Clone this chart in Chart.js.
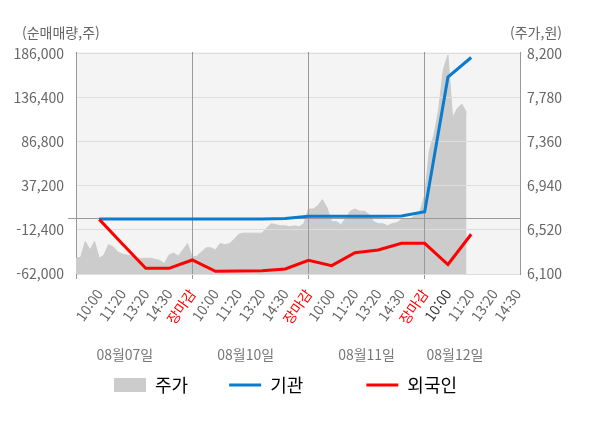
<!DOCTYPE html>
<html lang="ko">
<head>
<meta charset="utf-8">
<script src="https://cdn.jsdelivr.net/npm/chart.js@4.4.0/dist/chart.umd.min.js"></script>
<style>
  html, body { margin: 0; padding: 0; background: #fff; }
  #wrap { width: 600px; height: 428px; }
</style>
</head>
<body>
<div id="wrap"><canvas id="flowChart"></canvas></div>
<script>
const FONT = "'Noto Sans CJK KR', 'Noto Sans', sans-serif";

// x slots: 0 = market open (no label), then 5 slots per day
const timeLabels = ['', '10:00', '11:20', '13:20', '14:30', '장마감',
    '10:00', '11:20', '13:20', '14:30', '장마감',
    '10:00', '11:20', '13:20', '14:30', '장마감',
    '10:00', '11:20', '13:20', '14:30'];
const closeSlots = [5, 10, 15];
const todaySlot = 16;
const dayLabels = ['08월07일', '08월10일', '08월11일', '08월12일'];
const dayLabelSlots = [2.1, 7.3, 12.5, 16.3];

const flowTicks = [-62000, -12400, 0, 37200, 86800, 136400, 186000];
const priceTicks = [6100, 6520, 6940, 7360, 7780, 8200];

// net buying (shares), slots 1..17
const flowStart = 1;
const institution = [0, 0, 0, 0, 0, 0, 0, 0, 500, 3000, 3000, 3000, 3000, 3300, 8200, 159700, 181800];
const foreign = [-500, -28200, -55600, -55600, -46200, -59000, -58600, -58300, -56400, -46600, -52600, -38000, -34900, -27400, -27400, -51300, -17200];

// share price (won), one value every 0.2 slot
const priceStep = 0.2;
const price = [6250, 6260, 6410, 6330, 6410, 6250, 6280, 6380, 6360, 6310,
    6290, 6280, 6270, 6250, 6250, 6250, 6250, 6240, 6230, 6200,
    6280, 6300, 6270, 6330, 6390, 6260, 6270, 6310, 6350, 6350,
    6330, 6390, 6380, 6390, 6430, 6480, 6490, 6490, 6490, 6490,
    6490, 6540, 6580, 6570, 6560, 6560, 6550, 6560, 6550, 6580,
    6720, 6720, 6750, 6810, 6730, 6600, 6600, 6570, 6630, 6700,
    6720, 6700, 6700, 6670, 6600, 6580, 6580, 6560, 6580, 6590,
    6620, 6620, 6630, 6660, 6700, 6850, 7280, 7430, 7670, 8050,
    8190, 7590, 7680, 7720, 7640];

const BLUE = '#0a7ccf';
const RED = '#ff0000';
const AREA = '#cccccc';
const X_MAX = 19.1;

const toPoints = (arr, start, step) => arr.map((v, i) => ({ x: start + i * step, y: v }));

// paint plot background
const plotBackground = {
    id: 'plotBackground',
    beforeDraw(chart) {
        const { ctx, chartArea: a } = chart;
        ctx.save();
        ctx.fillStyle = '#f4f4f4';
        ctx.fillRect(a.left, a.top, a.right - a.left, a.bottom - a.top);
        ctx.restore();
    }
};

// grid lines sit on top of the price area but under the flow lines
const gridOverArea = {
    id: 'gridOverArea',
    afterDatasetDraw(chart, args) {
        if (args.index !== 0) return;
        chart.scales.y.drawGrid(chart.chartArea);
        chart.scales.x.drawGrid(chart.chartArea);
    }
};

// unit captions above both y axes
const axisCaptions = {
    id: 'axisCaptions',
    afterDraw(chart) {
        const ctx = chart.ctx;
        ctx.save();
        ctx.font = '14px ' + FONT;
        ctx.fillStyle = '#666';
        ctx.textBaseline = 'middle';
        ctx.textAlign = 'left';
        ctx.fillText('(순매매량,주)', 22, 33);
        ctx.textAlign = 'right';
        ctx.fillText('(주가,원)', 562, 33);
        ctx.restore();
    }
};

new Chart(document.getElementById('flowChart'), {
    type: 'line',
    data: {
        datasets: [{
            label: '주가',
            data: toPoints(price, 0, priceStep),
            yAxisID: 'y1',
            fill: 'start',
            backgroundColor: AREA,
            borderColor: AREA,
            borderWidth: 1,
            pointRadius: 0,
            order: 3
        }, {
            label: '기관',
            data: toPoints(institution, flowStart, 1),
            yAxisID: 'y',
            borderColor: BLUE,
            borderWidth: 3,
            pointRadius: 0,
            fill: false,
            order: 2
        }, {
            label: '외국인',
            data: toPoints(foreign, flowStart, 1),
            yAxisID: 'y',
            borderColor: RED,
            borderWidth: 3,
            pointRadius: 0,
            fill: false,
            order: 1
        }]
    },
    options: {
        responsive: true,
        maintainAspectRatio: false,
        animation: false,
        layout: { padding: { top: 52, right: 29, bottom: 24, left: 0 } },
        plugins: {
            tooltip: { enabled: false },
            legend: {
                position: 'bottom',
                labels: {
                    usePointStyle: true,
                    pointStyleWidth: 32,
                    boxHeight: 14,
                    padding: 10,
                    color: '#444',
                    font: { size: 18, family: FONT },
                    // trailing spaces widen the gaps between legend entries
                    generateLabels: () => [
                        { text: '주가\u2003\u2002 ', fillStyle: AREA, strokeStyle: AREA, lineWidth: 0, pointStyle: 'rect', datasetIndex: 0 },
                        { text: '기관\u2003\u2003\u2002  ', fillStyle: BLUE, strokeStyle: BLUE, lineWidth: 3, pointStyle: 'line', datasetIndex: 1 },
                        { text: '외국인', fillStyle: RED, strokeStyle: RED, lineWidth: 3, pointStyle: 'line', datasetIndex: 2 }
                    ]
                }
            }
        },
        scales: {
            x: {
                type: 'linear',
                min: 0,
                max: X_MAX,
                afterBuildTicks: (scale) => { scale.ticks = timeLabels.map((_, i) => ({ value: i })); },
                afterFit: (scale) => { scale.height = 60; },
                grid: {
                    color: (c) => closeSlots.includes(c.tick && c.tick.value) ? '#999' : 'rgba(0,0,0,0)',
                    tickColor: (c) => (c.tick && (c.tick.value === 0 || closeSlots.includes(c.tick.value))) ? '#999' : 'rgba(0,0,0,0)',
                    tickLength: 5
                },
                border: { color: '#999' },
                ticks: {
                    autoSkip: false,
                    minRotation: 55,
                    maxRotation: 55,
                    padding: 7,
                    font: { size: 14, family: FONT },
                    color: (c) => {
                        const v = c.tick && c.tick.value;
                        if (closeSlots.includes(v)) return RED;
                        if (v === todaySlot) return '#333';
                        return '#666';
                    },
                    callback: (v) => timeLabels[v] || ''
                }
            },
            x2: {
                type: 'linear',
                position: 'bottom',
                min: 0,
                max: X_MAX,
                afterBuildTicks: (scale) => { scale.ticks = dayLabelSlots.map(v => ({ value: v })); },
                afterFit: (scale) => { scale.height = 32; },
                grid: { display: false, drawTicks: false },
                border: { display: false },
                ticks: {
                    autoSkip: false,
                    maxRotation: 0,
                    padding: 12,
                    font: { size: 14, family: FONT },
                    color: '#777',
                    callback: (v, i) => dayLabels[i]
                }
            },
            y: {
                position: 'left',
                min: -62000,
                max: 188000,
                afterBuildTicks: (scale) => { scale.ticks = flowTicks.map(v => ({ value: v })); },
                afterFit: (scale) => { scale.width = 76; },
                grid: {
                    color: (c) => (c.tick && c.tick.value === 0) ? '#999' : '#dddddd',
                    tickColor: (c) => (c.tick && c.tick.value === 0) ? '#999' : 'rgba(0,0,0,0)',
                    tickLength: 8
                },
                border: { color: '#999' },
                ticks: {
                    padding: 4,
                    font: { size: 14, family: FONT },
                    color: '#666',
                    callback: (v) => v === 0 ? '' : v.toLocaleString('en-US')
                }
            },
            y1: {
                position: 'right',
                min: 6100,
                max: 8219,
                afterBuildTicks: (scale) => { scale.ticks = priceTicks.map(v => ({ value: v })); },
                afterFit: (scale) => { scale.width = 51; },
                grid: { display: false, drawTicks: false },
                border: { color: '#999' },
                ticks: {
                    padding: 7,
                    font: { size: 14, family: FONT },
                    color: '#666',
                    callback: (v) => v.toLocaleString('en-US')
                }
            }
        }
    },
    plugins: [plotBackground, gridOverArea, axisCaptions]
});
</script>
</body>
</html>
